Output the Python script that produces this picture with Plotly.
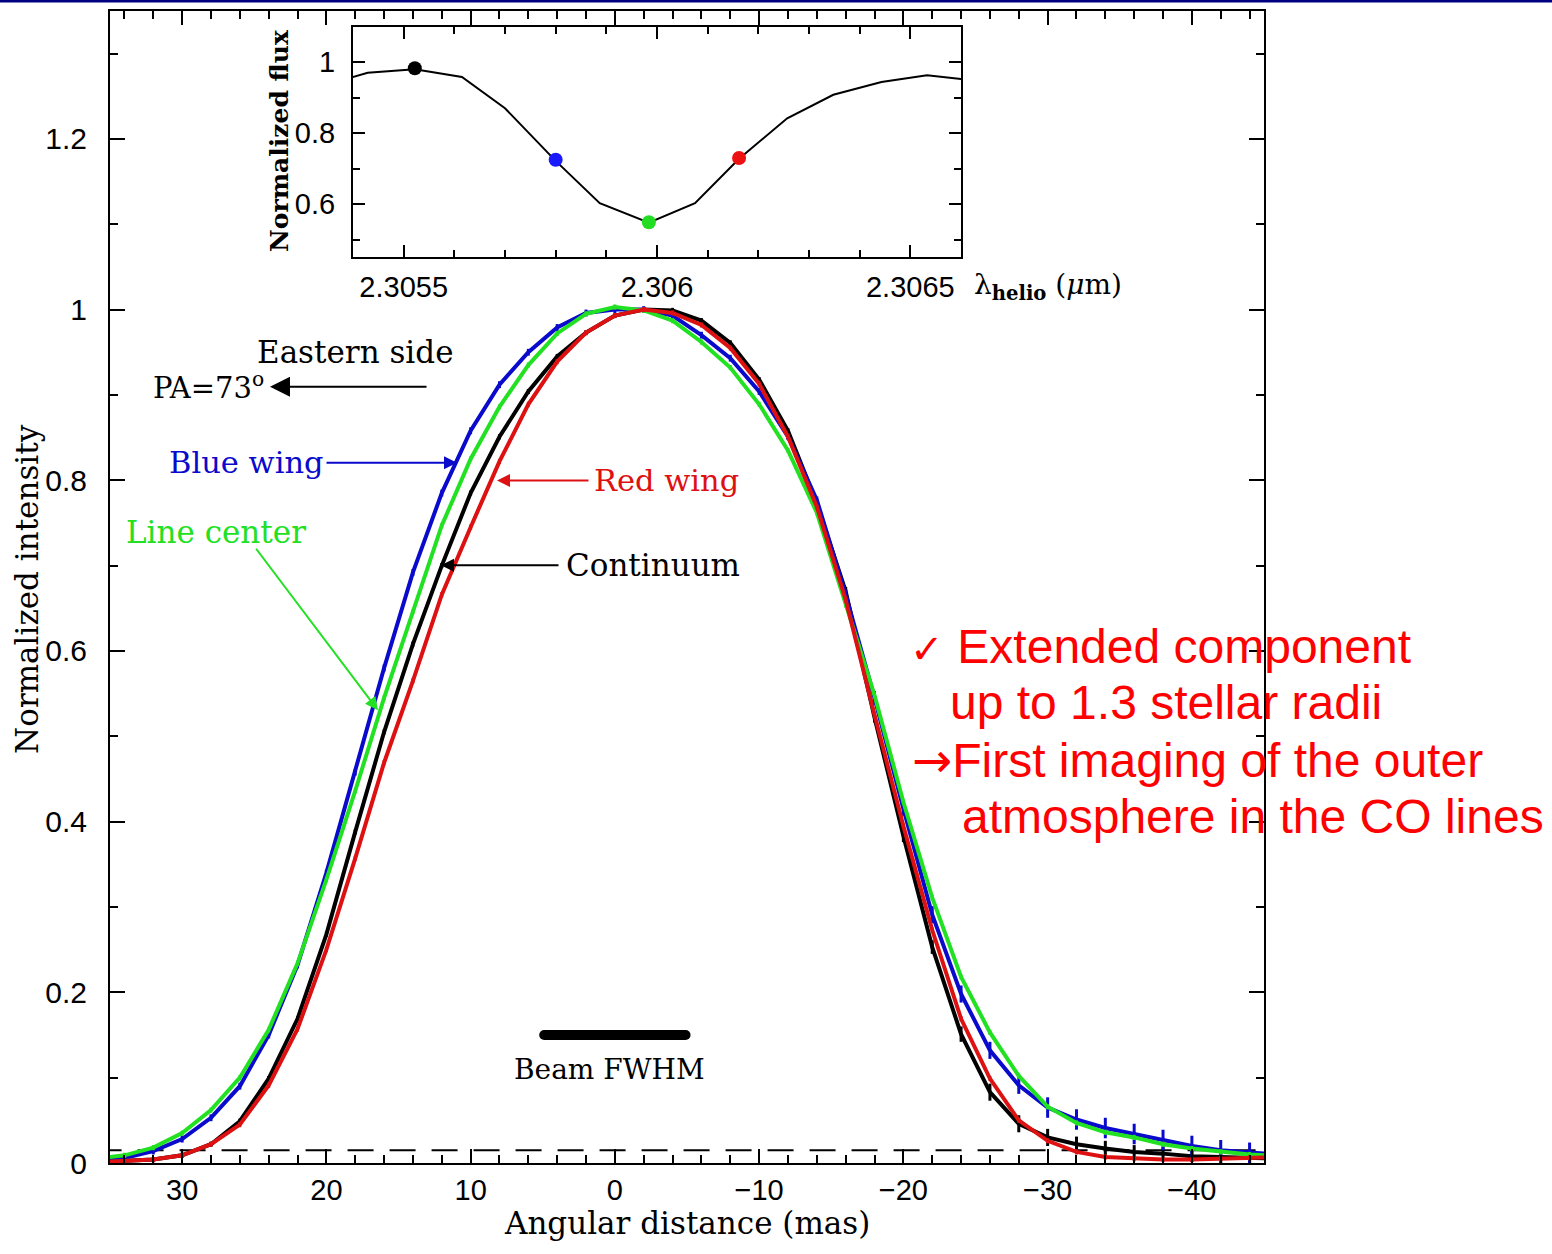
import plotly.graph_objects as go

W, H = 1552, 1254

# ---------------- data ----------------
mas = [36, 34, 32, 30, 28, 26, 24, 22, 20, 18, 16, 14, 12, 10, 8, 6, 4, 2, 0,
       -2, -4, -6, -8, -10, -12, -14, -16, -18, -20, -22, -24, -26, -28, -30,
       -32, -34, -36, -38, -40, -42, -44, -46]

blue_wing = [0.003, 0.006, 0.014, 0.028, 0.053, 0.090, 0.150, 0.232, 0.340, 0.458,
             0.580, 0.692, 0.785, 0.858, 0.912, 0.950, 0.979, 0.996, 1.000,
             1.000, 0.993, 0.970, 0.943, 0.904, 0.851, 0.777, 0.666, 0.545, 0.415,
             0.291, 0.198, 0.132, 0.091, 0.065, 0.051, 0.041, 0.034, 0.027, 0.020,
             0.015, 0.012, 0.010]
line_center = [0.005, 0.009, 0.018, 0.035, 0.062, 0.100, 0.156, 0.234, 0.332, 0.436,
               0.545, 0.646, 0.747, 0.825, 0.886, 0.935, 0.972, 0.995, 1.003,
               0.999, 0.987, 0.962, 0.932, 0.889, 0.835, 0.762, 0.654, 0.548, 0.423,
               0.311, 0.218, 0.153, 0.102, 0.066, 0.047, 0.036, 0.030, 0.022, 0.017,
               0.013, 0.010, 0.008]
continuum = [0.001, 0.002, 0.004, 0.009, 0.022, 0.049, 0.099, 0.169, 0.268, 0.388,
             0.505, 0.608, 0.700, 0.785, 0.851, 0.904, 0.945, 0.973, 0.993,
             1.000, 0.999, 0.987, 0.961, 0.918, 0.858, 0.773, 0.670, 0.522, 0.383,
             0.253, 0.151, 0.083, 0.046, 0.030, 0.022, 0.017, 0.013, 0.011, 0.008,
             0.007, 0.006, 0.005]
red_wing = [0.001, 0.002, 0.004, 0.009, 0.022, 0.045, 0.091, 0.157, 0.250, 0.357,
            0.469, 0.565, 0.666, 0.745, 0.822, 0.889, 0.939, 0.973, 0.993,
            1.000, 0.996, 0.982, 0.955, 0.913, 0.851, 0.769, 0.660, 0.525, 0.395,
            0.273, 0.169, 0.099, 0.050, 0.026, 0.013, 0.007, 0.005, 0.004, 0.004,
            0.005, 0.006, 0.007]

blue_err = [0.004] * 26 + [0.006, 0.008, 0.008, 0.010, 0.010, 0.010, 0.010, 0.012,
                           0.012, 0.012, 0.012, 0.012, 0.012, 0.012, 0.012, 0.012]
black_err = [0.003] * 26 + [0.005, 0.006, 0.007, 0.008, 0.009, 0.010, 0.010, 0.010,
                            0.009, 0.009, 0.008, 0.008, 0.007, 0.007, 0.007, 0.007]
small_err = [0.003] * 42

noise_level = 0.015
beam_center = 0.0
beam_fwhm = 9.8
beam_level = 0.15

# inset spectrum
wl = [2.30534, 2.305429, 2.305522, 2.305615, 2.305700, 2.305800, 2.305887,
      2.305984, 2.306075, 2.306162, 2.306257, 2.306348, 2.306443, 2.306533, 2.306625]
flux = [0.934, 0.970, 0.980, 0.958, 0.870, 0.722, 0.603, 0.548, 0.603, 0.728,
        0.842, 0.908, 0.944, 0.963, 0.949]
sel_wl = [2.305522, 2.305800, 2.305984, 2.306162]
sel_flux = [0.983, 0.725, 0.549, 0.730]
sel_col = ["#000000", "#1a1aff", "#22dd22", "#ee1111"]

BLUE = "#0a0acc"
GREEN = "#22e022"
RED = "#dd1111"
BLACK = "#000000"

SANS = "Liberation Sans, Arial, sans-serif"
SERIF = "DejaVu Serif, serif"


def px(x):
    return x / W


def py(y):
    return 1 - y / H


fig = go.Figure()

# dashed noise level
fig.add_trace(go.Scatter(x=[mas[0], mas[-1]], y=[noise_level, noise_level], mode="lines",
                         line=dict(color="black", width=2, dash="26px,16px"),
                         hoverinfo="skip", showlegend=False))

for yv, col, err in [(continuum, BLACK, black_err), (blue_wing, BLUE, blue_err),
                     (line_center, GREEN, small_err), (red_wing, RED, small_err)]:
    fig.add_trace(go.Scatter(
        x=mas, y=yv, mode="lines", line=dict(color=col, width=4),
        error_y=dict(type="data", array=err, color=col, thickness=3, width=0),
        showlegend=False))

# beam bar
fig.add_trace(go.Scatter(x=[beam_center + beam_fwhm / 2, beam_center - beam_fwhm / 2],
                         y=[beam_level, beam_level], mode="lines+markers",
                         line=dict(color="black", width=10),
                         marker=dict(size=10, color="black"), showlegend=False))

# inset
fig.add_trace(go.Scatter(x=wl, y=flux, mode="lines", line=dict(color="black", width=2),
                         xaxis="x2", yaxis="y2", showlegend=False))
fig.add_trace(go.Scatter(x=sel_wl, y=sel_flux, mode="markers",
                         marker=dict(size=14, color=sel_col), xaxis="x2", yaxis="y2",
                         showlegend=False, cliponaxis=False))

axis_common = dict(showline=True, linewidth=2, linecolor="black", mirror="ticks",
                   ticks="inside", tickwidth=2, tickcolor="black", showgrid=False,
                   zeroline=False)

fig.update_layout(
    width=W, height=H, autosize=False, margin=dict(l=0, r=0, t=0, b=0),
    paper_bgcolor="white", plot_bgcolor="rgba(0,0,0,0)",
    xaxis=dict(domain=[px(110), px(1264)], range=[35, -45], anchor="y",
               tick0=0, dtick=10, ticklen=14,
               minor=dict(ticks="inside", dtick=2, ticklen=8, tickwidth=1.5, tickcolor="black"),
               tickfont=dict(family=SANS, size=29, color="black"), ticklabelstandoff=0,
               **axis_common),
    yaxis=dict(domain=[py(1179), py(11)], range=[0, 1.35], anchor="x",
               tick0=0, dtick=0.2, ticklen=15,
               minor=dict(ticks="inside", dtick=0.1, ticklen=8, tickwidth=1.5, tickcolor="black"),
               tickfont=dict(family=SANS, size=30, color="black"), ticklabelstandoff=15,
               **axis_common),
    xaxis2=dict(domain=[px(353), px(961)], range=[2.3054, 2.3066], anchor="y2",
                tickvals=[2.3055, 2.306, 2.3065], ticktext=["2.3055", "2.306", "2.3065"],
                ticklen=12,
                minor=dict(ticks="inside", tick0=2.3055, dtick=0.0001, ticklen=7,
                           tickwidth=1.5, tickcolor="black"),
                tickfont=dict(family=SANS, size=29, color="black"), ticklabelstandoff=3,
                **axis_common),
    yaxis2=dict(domain=[py(261), py(27)], range=[0.45, 1.1], anchor="x2",
                tickvals=[0.6, 0.8, 1.0], ticktext=["0.6", "0.8", "1"], ticklen=12,
                minor=dict(ticks="inside", tick0=0.5, dtick=0.1, ticklen=7,
                           tickwidth=1.5, tickcolor="black"),
                tickfont=dict(family=SANS, size=29, color="black"), ticklabelstandoff=10,
                **axis_common),
)

ann = []


def text(x, y, s, size, color="black", family=SERIF, xanchor="left", yanchor="middle",
         angle=0):
    ann.append(dict(x=px(x), y=py(y), xref="paper", yref="paper", text=s, showarrow=False,
                    font=dict(family=family, size=size, color=color),
                    xanchor=xanchor, yanchor=yanchor, textangle=angle))


def arrow(x0, y0, x1, y1, color, width=2, head=2, size=1.3):
    ann.append(dict(x=px(x1), y=py(y1), ax=x0 - x1, ay=y0 - y1, xref="paper", yref="paper",
                    axref="pixel", ayref="pixel", text="", showarrow=True,
                    arrowhead=head, arrowsize=size, arrowwidth=width, arrowcolor=color,
                    standoff=0, startstandoff=0))


# axis titles
text(687, 1240, "Angular distance (mas)", 31, xanchor="center")
text(27, 597, "Normalized intensity", 31, xanchor="center", angle=-90)
text(279, 143, "<b>Normalized flux</b>", 25, xanchor="center", angle=-90)
text(972, 290, "λ<sub><b>helio</b></sub> (<i>μ</i>m)", 28)

# labels
text(355, 357, "Eastern side", 31, xanchor="center")
text(151, 391, "PA=73<sup>o</sup>", 29)
arrow(428, 392, 270, 392, BLACK, width=2, head=2, size=2.0)
text(167, 469, "Blue wing", 30.5, color=BLUE)
arrow(325, 469, 457, 469, BLUE)
text(592, 487, "Red wing", 30.5, color=RED)
arrow(590, 487, 497, 487, RED)
text(124, 539, "Line center", 31, color=GREEN)
arrow(255, 557, 378, 720, GREEN)
text(564, 573, "Continuum", 31)
arrow(560, 573, 441, 573, BLACK)
text(609, 1084, "Beam FWHM", 28, xanchor="center")

# red remarks
RC = "#ff0000"
text(908, 655, "<span style='font-size:40px'>✓</span> Extended component", 48, color=RC, family=SANS)
text(948, 712, "up to 1.3 stellar radii", 48, color=RC, family=SANS)
text(910, 770, "<span style='font-family:DejaVu Sans'>→</span>First imaging of the outer", 48,
     color=RC, family=SANS)
text(960, 828, "atmosphere in the CO lines", 48, color=RC, family=SANS)

fig.update_layout(annotations=ann)

fig.add_shape(type="line", xref="paper", yref="paper", x0=0, x1=1, y0=py(1), y1=py(1),
              line=dict(color="#000080", width=3))

fig.write_html("out.html", config={"responsive": False})

with open("out.html", "r", encoding="utf-8") as f:
    html = f.read()
html = html.replace("<body>", "<body style=\"margin:0;padding:0;overflow:hidden\">", 1)
with open("out.html", "w", encoding="utf-8") as f:
    f.write(html)
